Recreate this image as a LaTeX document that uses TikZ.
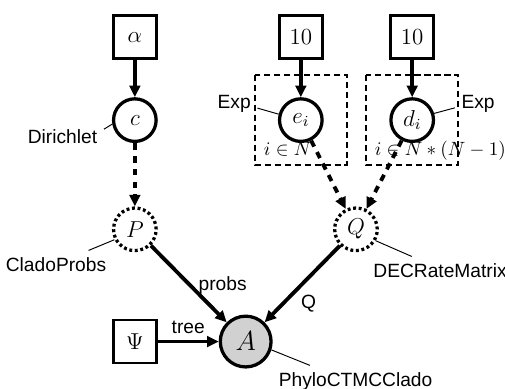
\documentclass[tikz,border=0pt]{standalone}
\usepackage{fontspec}
\setsansfont{Liberation Sans}
\usetikzlibrary{arrows.meta}

\begin{document}
\begin{tikzpicture}[
    const/.style={draw, line width=1.4pt, minimum size=0.79cm, inner sep=0pt, font=\large},
    var/.style={circle, draw, line width=1.7pt, minimum size=0.78cm, inner sep=0pt, font=\large},
    detvar/.style={var, dash pattern=on 1.5pt off 1.4pt},
    obsvar/.style={var, fill=black!18, minimum size=0.93cm, font=\Large},
    plate/.style={draw, line width=1.1pt, dash pattern=on 3.2pt off 2pt},
    arr/.style={-{Triangle[length=6pt,width=5.5pt]}, line width=2pt},
    darr/.style={arr, dash pattern=on 3.5pt off 3.2pt},
    fn/.style={font=\sffamily},
    pinline/.style={line width=0.5pt}
]
    \useasboundingbox (0,0) rectangle (9.25,-7.107);

    \draw[plate] (4.67,-1.37) rectangle (6.36,-3.02);
    \draw[plate] (6.71,-1.37) rectangle (8.39,-3.02);
    \node[anchor=base west] (plateE) at (4.71,-2.84) {$i \in N$};
    \node[anchor=base west] (plateD) at (6.74,-2.84) {$i \in N*(N-1)$};

    \node[const] (alpha) at (2.47,-0.68) {$\alpha$};
    \node[const] (tenE) at (5.51,-0.68) {$10$};
    \node[const] (tenD) at (7.55,-0.68) {$10$};
    \node[const] (psi) at (2.47,-6.256) {$\Psi$};

    \node[var] (c) at (2.47,-2.20) {$c$};
    \node[var] (e) at (5.51,-2.20) {$e_i$};
    \node[var] (d) at (7.55,-2.20) {$d_i$};
    \node[detvar] (P) at (2.47,-4.20) {$P$};
    \node[detvar] (Q) at (6.52,-4.20) {$Q$};
    \node[obsvar] (A) at (4.50,-6.256) {$A$};

    \node[fn] (dir) at (1.145,-2.50) {Dirichlet};
    \node[fn] (clado) at (1.026,-4.84) {CladoProbs};
    \node[fn] (expE) at (4.29,-1.905) {Exp};
    \node[fn] (expD) at (8.757,-1.90) {Exp};
    \node[fn] (dec) at (8.06,-4.95) {DECRateMatrix};
    \node[fn] (phylo) at (6.513,-6.98) {PhyloCTMCClado};

    \draw[pinline] (c.190) -- (dir.10);
    \draw[pinline] (P.207) -- (clado.23);
    \draw[pinline] (e.165) -- (expE.350);
    \draw[pinline] (d.17) -- (expD.190);
    \draw[pinline] (Q.330) -- (dec.154);
    \draw[pinline] (A.342) -- (phylo.161);

    \draw[arr] (alpha) -- (c);
    \draw[arr] (tenE) -- (e);
    \draw[arr] (tenD) -- (d);
    \draw[darr] (c) -- (P);
    \draw[darr] (e) -- (Q);
    \draw[darr] (d) -- (Q);
    \draw[arr] (P) -- node[fn, right, pos=0.52] (probs) {probs} (A);
    \draw[arr] (Q) -- node[fn, below right, pos=0.58, inner sep=1.5pt] (qlab) {Q} (A);
    \draw[arr] (psi) -- node[fn, above] (tree) {tree} (A);
\end{tikzpicture}
\end{document}
